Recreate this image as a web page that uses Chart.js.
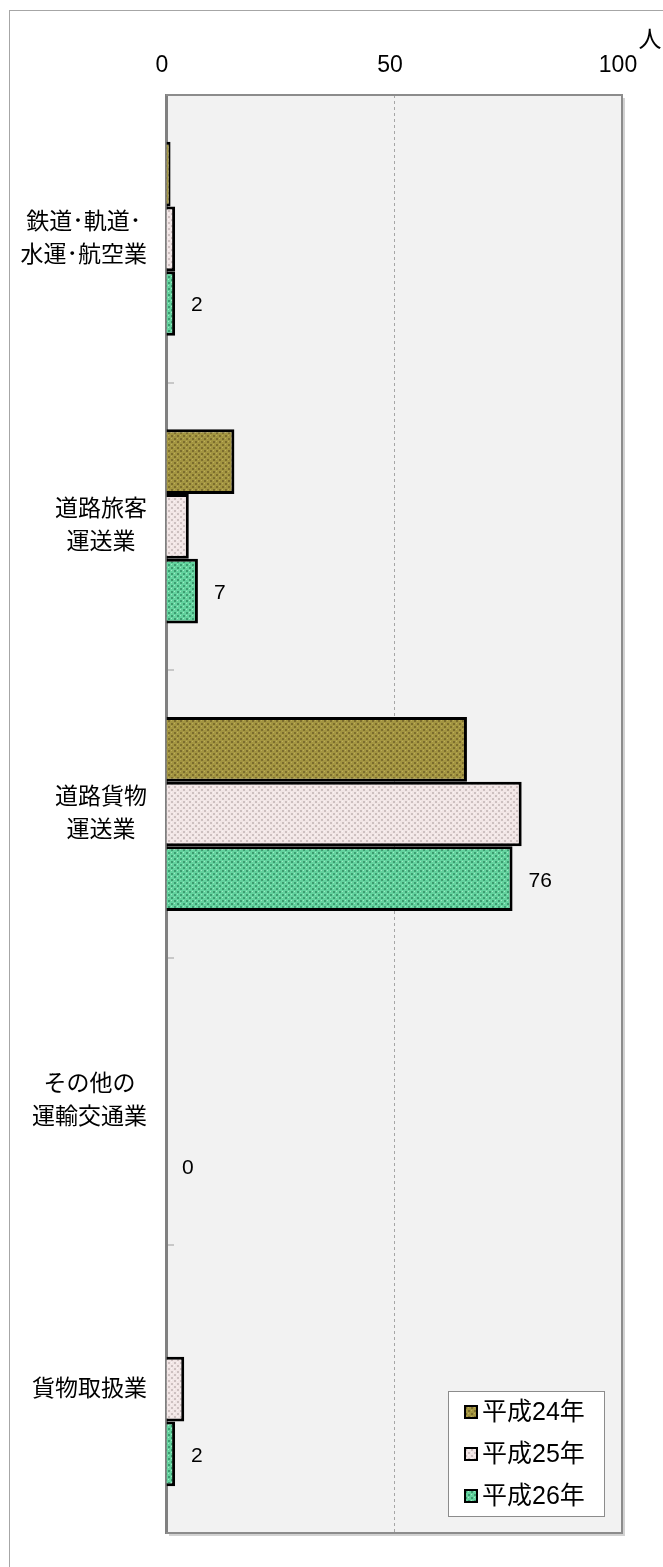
<!DOCTYPE html>
<html lang="ja">
<head>
<meta charset="utf-8">
<script src="https://cdn.jsdelivr.net/npm/chart.js@4.4.1/dist/chart.umd.min.js"></script>
<style>
  html, body { margin: 0; padding: 0; background: #fff; overflow: hidden; }
  #frame { position: absolute; left: 9px; top: 10px; width: 700px; height: 1600px;
           border-left: 1px solid #a6a6a6; border-top: 1px solid #a6a6a6; }
  #chart { position: absolute; left: 0; top: 0; }
</style>
</head>
<body>
<div id="frame"></div>
<canvas id="chart" width="663" height="1567"></canvas>
<script>
// データ
const categories = [
  ["鉄道･軌道･", "水運･航空業"],
  ["道路旅客", "運送業"],
  ["道路貨物", "運送業"],
  ["その他の", "運輸交通業"],
  ["貨物取扱業"]
];
const seriesNames = ["平成24年", "平成25年", "平成26年"];
const h24 = [1, 15, 66, 0, 0];
const h25 = [2, 5, 78, 0, 4];
const h26 = [2, 7, 76, 0, 2];
const xTicks = [0, 50, 100];
const unitLabel = "人";

const fontFamily = '"Liberation Sans", Arial, "Noto Sans CJK JP", sans-serif';

// 塗りつぶしパターン
function makePattern(base, dark, light) {
  const c = document.createElement("canvas");
  c.width = 6;
  c.height = 6;
  const g = c.getContext("2d");
  g.fillStyle = base;
  g.fillRect(0, 0, 6, 6);
  g.fillStyle = dark;
  g.fillRect(0, 0, 2, 2);
  g.fillRect(3, 3, 2, 2);
  g.fillStyle = light;
  g.fillRect(3, 0, 1, 1);
  g.fillRect(0, 3, 1, 1);
  return g.createPattern(c, "repeat");
}
const patterns = [
  makePattern("#a39541", "#7c6d2d", "#bdae5c"),
  makePattern("#f2e6e6", "#cdc0c0", "#faf4f4"),
  makePattern("#63d29e", "#3c9c70", "#a0eac4"),
];

// プロットエリアの背景・枠・目盛り・単位
const plotFrame = {
  id: "plotFrame",
  beforeDraw(chart) {
    const { ctx, chartArea: a } = chart;
    ctx.save();
    ctx.fillStyle = "#f2f2f2";
    ctx.fillRect(a.left, a.top, a.right - a.left, a.bottom - a.top);
    ctx.restore();
  },
  afterDraw(chart) {
    const { ctx, chartArea: a } = chart;
    const yScale = chart.scales.y;
    ctx.save();
    // 影
    ctx.strokeStyle = "#d2d2d2";
    ctx.lineWidth = 2;
    ctx.beginPath();
    ctx.moveTo(a.right + 2, a.top + 3);
    ctx.lineTo(a.right + 2, a.bottom + 2);
    ctx.lineTo(a.left + 3, a.bottom + 2);
    ctx.stroke();
    // 枠（上・右・下）
    ctx.strokeStyle = "#8c8c8c";
    ctx.lineWidth = 2;
    ctx.beginPath();
    ctx.moveTo(a.left, a.top);
    ctx.lineTo(a.right, a.top);
    ctx.lineTo(a.right, a.bottom);
    ctx.lineTo(a.left, a.bottom);
    ctx.stroke();
    // 項目の区切り目盛り
    ctx.strokeStyle = "#c8c8c8";
    for (let i = 1; i < categories.length; i++) {
      const y = Math.round((yScale.getPixelForValue(i - 1) + yScale.getPixelForValue(i)) / 2);
      ctx.beginPath();
      ctx.moveTo(a.left + 2, y);
      ctx.lineTo(a.left + 8, y);
      ctx.stroke();
    }
    // 単位
    ctx.fillStyle = "#000";
    ctx.font = "23px " + fontFamily;
    ctx.textAlign = "center";
    ctx.textBaseline = "middle";
    ctx.fillText(unitLabel, a.right + 28, 41);
    ctx.restore();
  },
};

// 項目名：右寄せのブロック内で各行を中央揃え（Excel風）
const categoryLabels = {
  id: "categoryLabels",
  afterDraw(chart) {
    const { ctx, chartArea: a } = chart;
    const yScale = chart.scales.y;
    const lineH = 33;
    ctx.save();
    ctx.fillStyle = "#000";
    ctx.font = "23px " + fontFamily;
    ctx.textAlign = "center";
    ctx.textBaseline = "middle";
    chart.data.labels.forEach((lines, i) => {
      const cy = yScale.getPixelForValue(i);
      const widest = Math.max(...lines.map((t) => ctx.measureText(t).width));
      const cx = a.left - 19 - widest / 2;
      lines.forEach((t, k) => {
        ctx.fillText(t, cx, cy + (k - (lines.length - 1) / 2) * lineH);
      });
    });
    ctx.restore();
  },
};

// 平成26年だけ数値ラベル
const valueLabels = {
  id: "valueLabels",
  afterDatasetsDraw(chart) {
    const { ctx } = chart;
    const meta = chart.getDatasetMeta(2);
    ctx.save();
    ctx.fillStyle = "#000";
    ctx.font = "21px " + fontFamily;
    ctx.textAlign = "left";
    ctx.textBaseline = "middle";
    meta.data.forEach((bar, i) => {
      ctx.fillText(String(h26[i]), bar.x + 16, bar.y + 2);
    });
    ctx.restore();
  },
};

// 凡例（プロットエリア内右下）
const boxLegend = {
  id: "boxLegend",
  afterDraw(chart) {
    const { ctx, chartArea: a } = chart;
    const w = 156, h = 125;
    const left = a.right - 18 - w;
    const top = a.bottom - 17 - h;
    ctx.save();
    ctx.fillStyle = "#fff";
    ctx.fillRect(left, top, w, h);
    ctx.strokeStyle = "#8c8c8c";
    ctx.lineWidth = 1;
    ctx.strokeRect(left + 0.5, top + 0.5, w, h);
    ctx.font = "25px " + fontFamily;
    ctx.textAlign = "left";
    ctx.textBaseline = "middle";
    chart.data.datasets.forEach((ds, i) => {
      const cy = top + 21 + i * 42;
      ctx.fillStyle = ds.backgroundColor;
      ctx.fillRect(left + 17, cy - 6, 12, 12);
      ctx.strokeStyle = "#000";
      ctx.lineWidth = 2;
      ctx.strokeRect(left + 17, cy - 6, 12, 12);
      ctx.fillStyle = "#000";
      ctx.fillText(ds.label, left + 34, cy + 1);
    });
    ctx.restore();
  },
};

const seriesValues = [h24, h25, h26];

new Chart(document.getElementById("chart"), {
  type: "bar",
  data: {
    labels: categories,
    datasets: seriesNames.map((name, i) => ({
      label: name,
      data: seriesValues[i],
      backgroundColor: patterns[i],
      borderColor: "#000",
      borderWidth: 3,
      categoryPercentage: 0.675,
      barPercentage: 1.0,
    })),
  },
  options: {
    indexAxis: "y",
    responsive: false,
    animation: false,
    layout: { padding: { top: 0, right: 41, bottom: 34, left: 0 } },
    scales: {
      x: {
        position: "top",
        min: 0,
        max: 100,
        afterBuildTicks(scale) {
          scale.ticks = xTicks.map((v) => ({ value: v }));
        },
        afterFit(scale) {
          scale.height = 95;
        },
        ticks: {
          font: { size: 23, family: fontFamily },
          color: "#000",
          padding: 16,
          labelOffset: -4,
          maxRotation: 0,
        },
        grid: {
          drawTicks: false,
          color: (c) => (c.tick && c.tick.value === 50 ? "#a6a6a6" : "rgba(0,0,0,0)"),
          lineWidth: 1,
        },
        border: { display: false, dash: [3, 3] },
      },
      y: {
        afterFit(scale) {
          scale.width = 166;
        },
        ticks: { display: false },
        grid: { display: false },
        border: { display: true, color: "#808080", width: 3 },
      },
    },
    plugins: {
      legend: { display: false },
      tooltip: { enabled: false },
    },
  },
  plugins: [plotFrame, categoryLabels, valueLabels, boxLegend],
});
</script>
</body>
</html>
